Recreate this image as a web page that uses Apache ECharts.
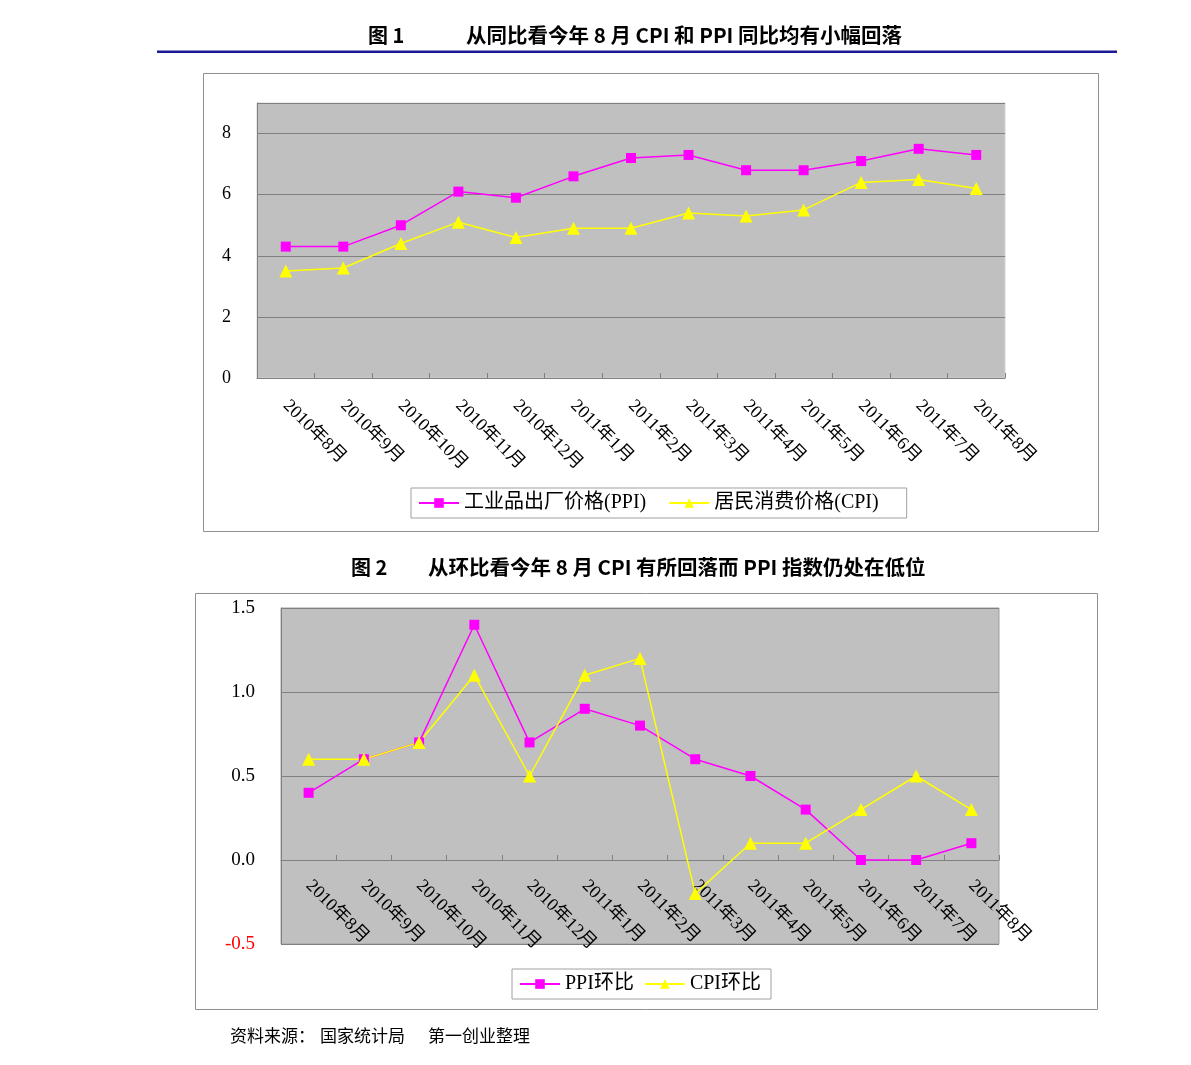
<!DOCTYPE html>
<html><head><meta charset="utf-8">
<script src="https://cdn.jsdelivr.net/npm/echarts@6/dist/echarts.min.js"></script>
<style>html,body{margin:0;padding:0;background:#fff}#c{width:1191px;height:1065px}</style>
</head><body><div id="c"></div>
<script>
var months = ['2010年8月','2010年9月','2010年10月','2010年11月','2010年12月','2011年1月','2011年2月','2011年3月','2011年4月','2011年5月','2011年6月','2011年7月','2011年8月'];
var ppiYoY = [4.3, 4.3, 5.0, 6.1, 5.9, 6.6, 7.2, 7.3, 6.8, 6.8, 7.1, 7.5, 7.3];
var cpiYoY = [3.5, 3.6, 4.4, 5.1, 4.6, 4.9, 4.9, 5.4, 5.3, 5.5, 6.4, 6.5, 6.2];
var ppiMoM = [0.4, 0.6, 0.7, 1.4, 0.7, 0.9, 0.8, 0.6, 0.5, 0.3, 0.0, 0.0, 0.1];
var cpiMoM = [0.6, 0.6, 0.7, 1.1, 0.5, 1.1, 1.2, -0.2, 0.1, 0.1, 0.3, 0.5, 0.3];
var names1 = ['工业品出厂价格(PPI)', '居民消费价格(CPI)'];
var names2 = ['PPI环比', 'CPI环比'];
var title1 = ['图 1', '从同比看今年 8 月 CPI 和 PPI 同比均有小幅回落'];
var title2 = ['图 2', '从环比看今年 8 月 CPI 有所回落而 PPI 指数仍处在低位'];
var sourceParts = ['资料来源：', '国家统计局', '第一创业整理'];

var FONT = "'Liberation Serif','Noto Sans CJK SC',serif";
var CJK = "'Noto Sans CJK SC',sans-serif";
var MAG = '#ff00ff', YEL = '#ffff00';

var chart = echarts.init(document.getElementById('c'), null, {renderer:'canvas'});
function lineSeries(name, data, color, sym, size, xi) {
  return {
    type:'line', name:name, data:data, xAxisIndex:xi, yAxisIndex:xi,
    symbol:sym, symbolSize:size, showAllSymbol:true,
    lineStyle:{color:color, width:1.5}, itemStyle:{color:color},
    emphasis:{disabled:true}, animation:false
  };
}
function xAxisFor(gi, offset, margin) {
  return {
    type:'category', gridIndex:gi, data:months, boundaryGap:true, offset:offset,
    axisLine:{onZero:false, lineStyle:{color:'#808080', width:1}},
    axisTick:{show:true, inside:true, length:5, lineStyle:{color:'#808080'}},
    axisLabel:{rotate:-45, fontFamily:FONT, fontSize:18, color:'#000', margin:margin, interval:0}
  };
}
var legendText = {fontFamily:FONT, fontSize:20, color:'#000'};
var option = {
  animation:false,
  graphic:[
    {type:'text', left:368, top:25, style:{text:title1[0], font:'bold 20px '+CJK, fill:'#000'}},
    {type:'text', left:466, top:25, style:{text:title1[1], font:'bold 20.5px '+CJK, fill:'#000'}},
    {type:'rect', shape:{x:157, y:50.5, width:960, height:2.5}, style:{fill:'#1a1a96'}},
    {type:'rect', shape:{x:203.5, y:73.5, width:895, height:458}, style:{fill:'none', stroke:'#909090', lineWidth:1}, z:-1},
    {type:'text', left:351, top:557, style:{text:title2[0], font:'bold 20px '+CJK, fill:'#000'}},
    {type:'text', left:428, top:557, style:{text:title2[1], font:'bold 20.5px '+CJK, fill:'#000'}},
    {type:'rect', shape:{x:195.5, y:593.5, width:902, height:416}, style:{fill:'none', stroke:'#909090', lineWidth:1}, z:-1},
    {type:'text', left:230, top:1027, style:{text:sourceParts[0], font:'17px '+CJK, fill:'#000'}},
    {type:'text', left:320, top:1027, style:{text:sourceParts[1], font:'17px '+CJK, fill:'#000'}},
    {type:'text', left:428, top:1027, style:{text:sourceParts[2], font:'17px '+CJK, fill:'#000'}}
  ],
  grid:[
    {left:257, top:103, width:748, height:275, show:true, backgroundColor:'#c0c0c0', borderColor:'#d4d4d4', borderWidth:1, containLabel:false},
    {left:281, top:608, width:718, height:336, show:true, backgroundColor:'#c0c0c0', borderColor:'#a0a0a0', borderWidth:1, containLabel:false}
  ],
  legend:[
    {data:names1, left:411, top:488, orient:'horizontal', padding:[5,28,5,7], itemGap:22, itemWidth:40, itemHeight:12,
     borderColor:'#a0a0a0', borderWidth:1, textStyle:legendText, selectedMode:false},
    {data:names2, left:512, top:969, orient:'horizontal', padding:[5,10,5,7], itemGap:10, itemWidth:40, itemHeight:12,
     borderColor:'#a0a0a0', borderWidth:1, textStyle:legendText, selectedMode:false}
  ],
  xAxis:[ xAxisFor(0, 0, 25), xAxisFor(1, -84, 23) ],
  yAxis:[
    {type:'value', gridIndex:0, min:0, max:9, interval:2,
     axisLine:{show:true, lineStyle:{color:'#808080'}}, axisTick:{show:false},
     splitLine:{show:true, lineStyle:{color:'#808080', width:1}},
     axisLabel:{fontFamily:FONT, fontSize:18, color:'#000', margin:26, showMaxLabel:false}},
    {type:'value', gridIndex:1, min:-0.5, max:1.5, interval:0.5,
     axisLine:{show:true, lineStyle:{color:'#808080'}}, axisTick:{show:false},
     splitLine:{show:true, lineStyle:{color:'#808080', width:1}},
     axisLabel:{fontFamily:FONT, fontSize:19, margin:26,
       formatter:function(v){return v.toFixed(1);},
       color:function(v){return Number(v) < 0 ? '#ff0000' : '#000';}}}
  ],
  series:[
    lineSeries(names1[0], ppiYoY, MAG, 'rect', 10, 0),
    lineSeries(names1[1], cpiYoY, YEL, 'triangle', 13, 0),
    lineSeries(names2[0], ppiMoM, MAG, 'rect', 10, 1),
    lineSeries(names2[1], cpiMoM, YEL, 'triangle', 13, 1)
  ]
};
chart.setOption(option);
</script></body></html>
